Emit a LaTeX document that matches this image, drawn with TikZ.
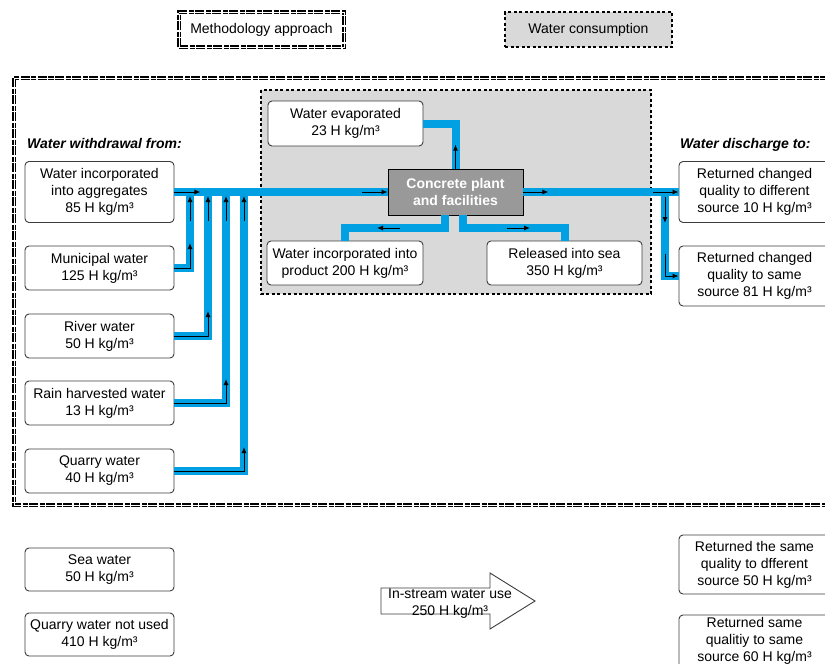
\documentclass[tikz,border=0pt]{standalone}
\usepackage{fontspec}
\setmainfont{Liberation Sans}
\usetikzlibrary{arrows.meta,calc}
\definecolor{pipeblue}{RGB}{0,160,227}
\definecolor{consgrey}{RGB}{217,217,217}
\definecolor{plantgrey}{RGB}{153,153,153}
\definecolor{edgegrey}{RGB}{60,60,60}

\begin{document}
\begin{tikzpicture}[x=1pt,y=-1pt,
  font=\fontsize{14}{17}\selectfont,
  box/.style={draw=edgegrey, line width=0.9pt, rounded corners=4pt, fill=white,
    align=center, inner sep=0pt},
  plantbox/.style={draw=black, line width=0.9pt, fill=plantgrey, text=white,
    font=\fontsize{14}{17}\selectfont\bfseries, align=center, inner sep=0pt},
  pipe/.style={draw=pipeblue, line width=8pt},
  flow/.style={draw=black, line width=1pt, -{Latex[length=6pt,width=5pt]}},
  heading/.style={font=\fontsize{14}{17}\selectfont\bfseries\itshape, anchor=base west, inner sep=0pt},
  methline/.style={draw=black, line width=1.6pt, double=white, double distance=0.9pt,
    dash pattern=on 9pt off 1.5pt on 5pt off 1.5pt},
  consline/.style={draw=black, line width=2.8pt, dash pattern=on 3pt off 2.5pt},
]
\useasboundingbox (0,0) rectangle (825,664);

% legend
\node[methline, minimum width=165pt, minimum height=35pt, inner sep=0pt] (legm) at (261.5,29.5) {Methodology approach};
\node[consline, fill=consgrey, minimum width=167pt, minimum height=35pt, inner sep=0pt] (legc) at (588.5,29.5) {Water consumption};

% methodology frame and consumption area
\draw[methline] (14,78) rectangle (870,505);
\draw[consline, fill=consgrey] (261,90) rectangle (651,294);

% headings
\node[heading] (hin) at (27,148) {Water withdrawal from:};
\node[heading] (hout) at (680,148) {Water discharge to:};

% withdrawal sources
\node[box, minimum width=149pt, minimum height=61pt] (agg) at (99.5,192) {Water incorporated\\into aggregates\\85 H kg/m³};
\node[box, minimum width=149pt, minimum height=44pt] (muni) at (99.5,268) {Municipal water\\125 H kg/m³};
\node[box, minimum width=149pt, minimum height=44pt] (river) at (99.5,336) {River water\\50 H kg/m³};
\node[box, minimum width=149pt, minimum height=44pt] (rain) at (99.5,403) {Rain harvested water\\13 H kg/m³};
\node[box, minimum width=149pt, minimum height=44pt] (quarry) at (99.5,471) {Quarry water\\40 H kg/m³};

% plant and consumption outputs
\node[plantbox, minimum width=135pt, minimum height=46pt] (plant) at (455.5,192) {Concrete plant\\and facilities};
\node[box, minimum width=155pt, minimum height=45pt] (evap) at (345.5,123.5) {Water evaporated\\23 H kg/m³};
\node[box, minimum width=156pt, minimum height=44pt] (product) at (345,263) {Water incorporated into\\product 200 H kg/m³};
\node[box, minimum width=155pt, minimum height=44pt] (sea) at (564.5,263) {Released into sea\\350 H kg/m³};

% discharge targets
\node[box, minimum width=151pt, minimum height=61pt] (ret1) at (754.5,192) {Returned changed\\quality to different\\source 10 H kg/m³};
\node[box, minimum width=151pt, minimum height=60pt] (ret2) at (754.5,276) {Returned changed\\quality to same\\source 81 H kg/m³};

% junction points on the pipes
\coordinate (j1) at (190,192);
\coordinate (j2) at (208,192);
\coordinate (j3) at (226,192);
\coordinate (j4) at (244,192);
\coordinate (pl) at (445,228);
\coordinate (pr) at (463,228);
\coordinate (jr) at (665,192);

% pipes
\draw[pipe] (agg.east) -- (plant.west);
\draw[pipe] (muni.east) -| (j1);
\draw[pipe] (river.east) -| (j2);
\draw[pipe] (rain.east) -| (j3);
\draw[pipe] (quarry.east) -| (j4);
\draw[pipe] (plant.north) |- (evap.east);
\draw[pipe] (plant.south -| pl) -- (pl) -| (product.north);
\draw[pipe] (plant.south -| pr) -- (pr) -| (sea.north);
\draw[pipe] (plant.east) -- (ret1.west);
\draw[pipe] (jr) |- (ret2.west);

% flow arrows on the pipes
\draw[flow] (agg.east) -- ++(26,0);
\foreach \j in {j1,j2,j3,j4} \draw[flow] ($(\j)+(0,29)$) -- ($(\j)+(0,4)$);
\draw[flow] (muni.east) -| ($(j1)+(0,51)$);
\draw[flow] (river.east) -| ($(j2)+(0,119)$);
\draw[flow] (rain.east) -| ($(j3)+(0,187)$);
\draw[flow] (quarry.east) -| ($(j4)+(0,255)$);
\draw[flow] ($(plant.west)+(-26,0)$) -- (plant.west);
\draw[flow] (plant.east) -- ++(25,0);
\draw[flow] (plant.north) -- ++(0,-24);
\draw[flow] ($(pl)+(-45,0)$) -- ++(-23,0);
\draw[flow] ($(pr)+(44,0)$) -- ++(23,0);
\draw[flow] ($(jr)+(-12,0)$) -- (ret1.west);
\draw[flow] ($(jr)+(0,5)$) -- ++(0,26);
\draw[flow] ($(jr)+(0,62)$) |- (ret2.west);

% flows outside the methodology boundary
\node[box, minimum width=149pt, minimum height=43pt] (seaw) at (99.5,569.5) {Sea water\\50 H kg/m³};
\node[box, minimum width=149pt, minimum height=43pt] (qnu) at (99.5,634.5) {Quarry water not used\\410 H kg/m³};
\node[box, minimum width=151pt, minimum height=59pt] (ret3) at (754.5,564.5) {Returned the same\\quality to dfferent\\source 50 H kg/m³};
\node[box, minimum width=151pt, minimum height=62pt] (ret4) at (754.5,646) {Returned same\\qualitiy to same\\source 60 H kg/m³\vphantom{g}\\[-3pt]};

% in-stream use arrow
\draw[draw=edgegrey, line width=0.9pt, fill=white]
  (381,588) -- (490,588) -- (490,573) -- (535,601) -- (490,629) -- (490,614) -- (381,614) -- cycle;
\node[align=center, inner sep=0pt] (instream) at (450,603.5) {In-stream water use\\250 H kg/m³};
\end{tikzpicture}
\end{document}
